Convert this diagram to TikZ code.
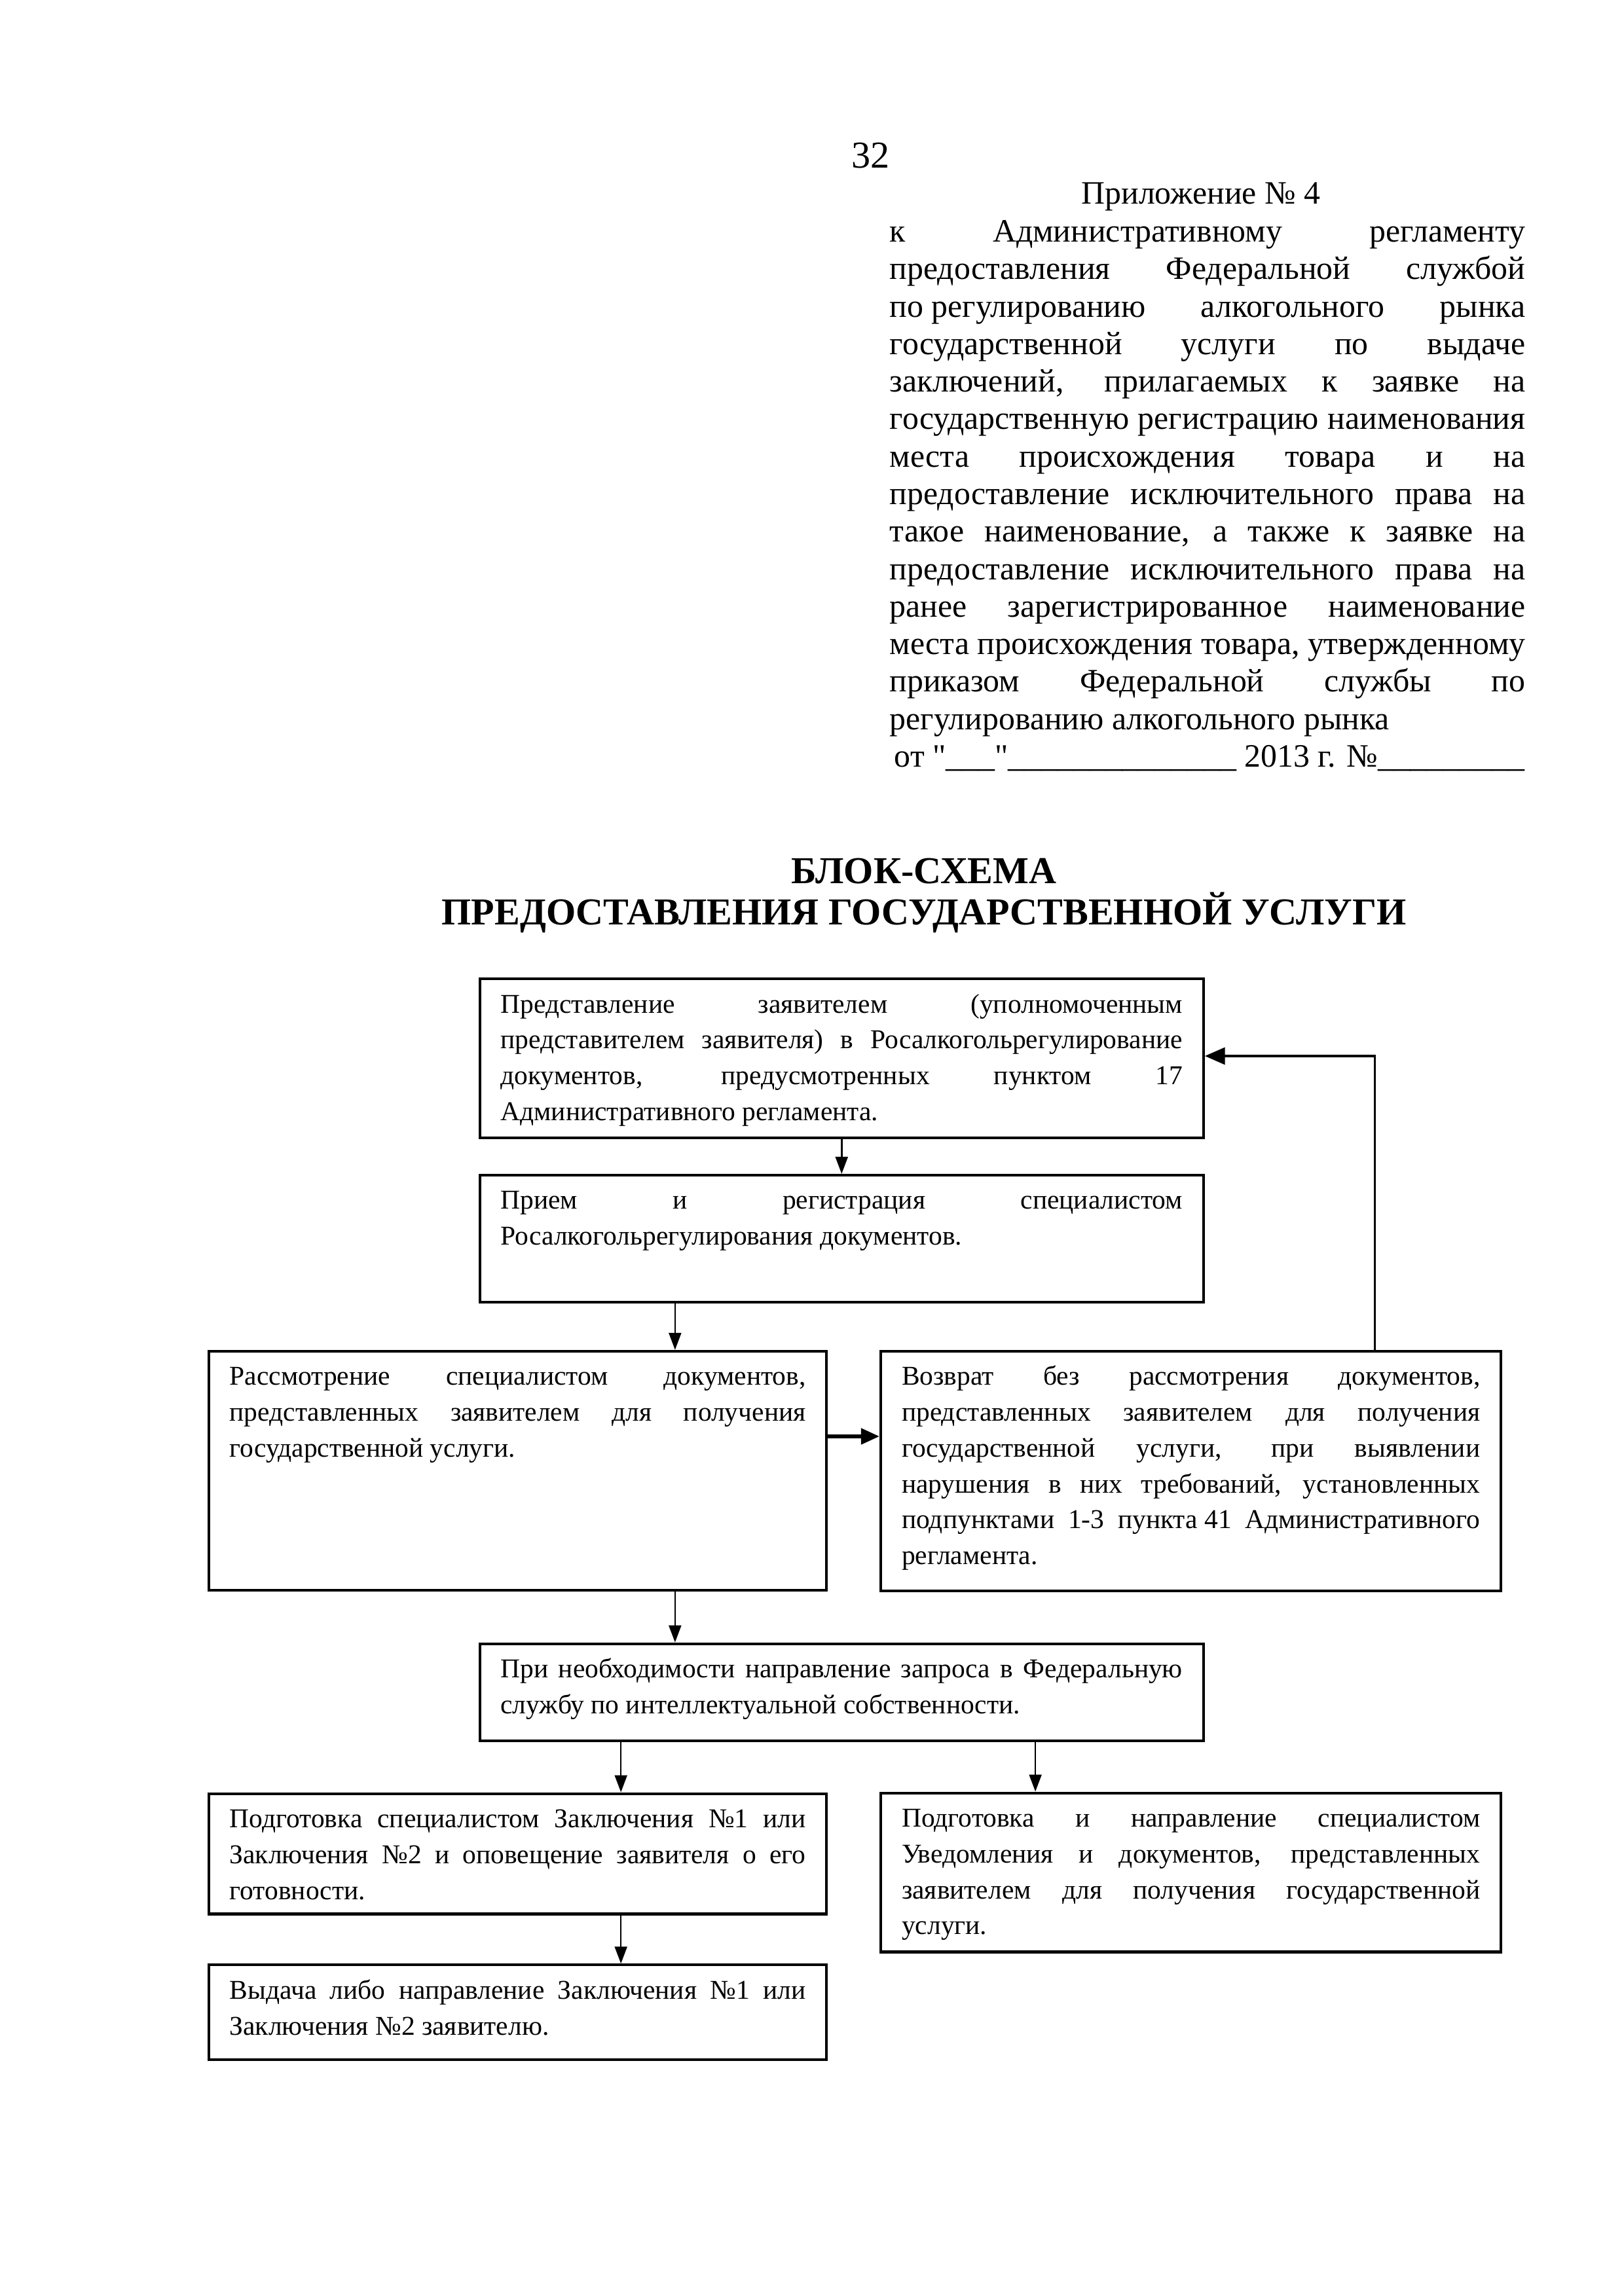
\documentclass[tikz,border=0pt]{standalone}
\usepackage{fontspec}
\setmainfont{Liberation Serif}
\usetikzlibrary{arrows.meta}
\newcommand\jl[1]{\makebox[\linewidth][s]{#1}}
\newcommand\blocktext[3]{\parbox[t][#2][t]{#1}{\rule{0pt}{12.5pt}#3}}

\begin{document}
\begin{tikzpicture}[
    blk/.style={draw, line width=1pt, anchor=north west, inner xsep=0.27cm, inner ysep=0pt,
        font=\fontsize{10}{13.2}\selectfont},
    arr/.style={line width=0.6pt, -{Triangle[length=2.2mm,width=1.6mm]}},
    thkarr/.style={line width=1.5pt, -{Triangle[length=2.4mm,width=2mm]}},
    fbarr/.style={line width=0.8pt, -{Triangle[length=2.6mm,width=2.2mm]}}]
        \useasboundingbox (0,0) rectangle (21,-29.7);

        \node[anchor=base, font=\fontsize{14}{16}\selectfont] (pnum) at (11.26,-2.17) {32};
        \node[anchor=base, font=\fontsize{12}{13.8}\selectfont] (appx) at (15.53,-2.64) {Приложение № 4};
        \node[anchor=base west, inner sep=0pt, text width=8.22cm, align=justify,
            font=\fontsize{12}{13.8}\selectfont] (hdr) at (11.50,-3.13) {%
            \jl{к Административному регламенту}\\
            \jl{предоставления Федеральной службой}\\
            \jl{\mbox{по регулированию} алкогольного рынка}\\
            \jl{государственной услуги по выдаче}\\
            \jl{заключений, прилагаемых к заявке на}\\
            \jl{государственную регистрацию наименования}\\
            \jl{места происхождения товара и на}\\
            \jl{предоставление исключительного права на}\\
            \jl{такое наименование, а также к заявке на}\\
            \jl{предоставление исключительного права на}\\
            \jl{ранее зарегистрированное наименование}\\
            \jl{места происхождения товара, утвержденному}\\
            \jl{приказом Федеральной службы по}\\
            \mbox{регулированию алкогольного рынка}\\
            \mbox{\hspace*{0.06cm}от \textquotedbl\_\_\_\textquotedbl\_\_\_\_\_\_\_\_\_\_\_\_\_\_ 2013 г. №\_\_\_\_\_\_\_\_\_}};

        \node[anchor=base, font=\fontsize{14}{16}\selectfont\bfseries] (ttl1) at (11.95,-11.43) {БЛОК-СХЕМА};
        \node[anchor=base, font=\fontsize{14}{16}\selectfont\bfseries] (ttl2) at (11.95,-11.96) {ПРЕДОСТАВЛЕНИЯ ГОСУДАРСТВЕННОЙ УСЛУГИ};

        \node[blk] (b1) at (6.187,-12.645) {\blocktext{8.82cm}{2.057cm}{%
            \jl{Представление заявителем (уполномоченным}\\
            \jl{представителем заявителя) в Росалкогольрегулирование}\\
            \jl{документов, предусмотренных пунктом 17}\\
            Административного регламента.}};
        \node[blk] (b2) at (6.187,-15.184) {\blocktext{8.82cm}{1.642cm}{%
            \jl{Прием и регистрация специалистом}\\
            Росалкогольрегулирования документов.}};
        \node[blk] (b3) at (2.683,-17.461) {\blocktext{7.45cm}{3.089cm}{%
            \jl{Рассмотрение специалистом документов,}\\
            \jl{представленных заявителем для получения}\\
            государственной услуги.}};
        \node[blk] (b4) at (11.375,-17.461) {\blocktext{7.48cm}{3.10cm}{%
            \jl{Возврат без рассмотрения документов,}\\
            \jl{представленных заявителем для получения}\\
            \jl{государственной услуги, при выявлении}\\
            \jl{нарушения в них требований, установленных}\\
            \jl{подпунктами 1-3 \mbox{пункта 41} Административного}\\
            регламента.}};
        \node[blk] (b5) at (6.187,-21.245) {\blocktext{8.82cm}{1.253cm}{%
            \jl{При необходимости направление запроса в Федеральную}\\
            службу по интеллектуальной собственности.}};
        \node[blk] (b6) at (2.683,-23.183) {\blocktext{7.45cm}{1.557cm}{%
            \jl{Подготовка специалистом Заключения №1 или}\\
            \jl{Заключения №2 и оповещение заявителя о его}\\
            готовности.}};
        \node[blk] (b7) at (11.375,-23.175) {\blocktext{7.48cm}{2.057cm}{%
            \jl{Подготовка и направление специалистом}\\
            \jl{Уведомления и документов, представленных}\\
            \jl{заявителем для получения государственной}\\
            услуги.}};
        \node[blk] (b8) at (2.683,-25.40) {\blocktext{7.45cm}{1.227cm}{%
            \jl{Выдача либо направление Заключения №1 или}\\
            Заключения №2 заявителю.}};

        \coordinate (c1) at (8.73,0);
        \coordinate (c2) at (8.03,0);
        \coordinate (c3) at (13.39,0);
        \coordinate (r1) at (0,-18.58);
        \coordinate (fb) at (17.78,-13.66);

        \draw[arr] (b1) -- (b2);
        \draw[arr] (b2.south -| c1) -- (b3.north -| c1);
        \draw[thkarr] (b3.east |- r1) -- (b4.west |- r1);
        \draw[fbarr] (b4.north -| fb) |- (b1.east |- fb);
        \draw[arr] (b3.south -| c1) -- (b5.north -| c1);
        \draw[arr] (b5.south -| c2) -- (b6.north -| c2);
        \draw[arr] (b5.south -| c3) -- (b7.north -| c3);
        \draw[arr] (b6.south -| c2) -- (b8.north -| c2);
    \end{tikzpicture}
\end{document}
